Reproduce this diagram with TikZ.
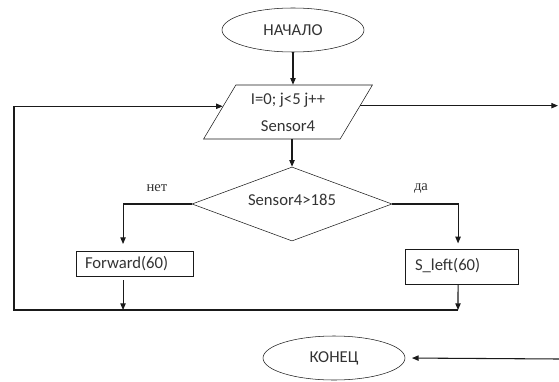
\documentclass[tikz,border=0pt]{standalone}
\usepackage{fontspec}
\setmainfont{Carlito}
\newfontfamily\lblfont{Liberation Serif}
\usepackage{xcolor}
\usepackage{tikz}
\usetikzlibrary{
  arrows.meta, shapes, shapes.geometric, positioning, calc
}
\definecolor{C_LINE}{HTML}{1A1A1A}
\definecolor{C_TEXT}{HTML}{333333}
\tikzset{
  %% -- flowchart terminator (start / end) --
  FC/term/.style={
    draw=C_LINE, ellipse, inner sep=0pt,
    minimum width=106.5pt, minimum height=33pt,
    font=\fontsize{12.5}{15}\selectfont, text=C_TEXT
  },
  %% -- flowchart loop / input block --
  FC/io/.style={
    draw=C_LINE, trapezium, trapezium left angle=59, trapezium right angle=121,
    trapezium stretches=true, inner sep=0pt,
    minimum width=127.5pt, minimum height=40.5pt,
    align=center, font=\fontsize{12.5}{15}\selectfont, text=C_TEXT
  },
  %% -- flowchart decision --
  FC/dec/.style={
    draw=C_LINE, diamond, aspect=2.7, inner sep=0pt,
    minimum width=150pt, minimum height=55.5pt,
    font=\fontsize{12.5}{15}\selectfont, text=C_TEXT
  },
  %% -- flowchart process box --
  FC/proc/.style={
    draw=C_LINE, rectangle, inner ysep=0pt,
    align=left, font=\fontsize{12.5}{15}\selectfont, text=C_TEXT
  },
  %% -- branch label --
  FC/lbl/.style={font=\lblfont\fontsize{11}{13}\selectfont, text=C_TEXT},
  %% -- connector with arrow --
  FC/arr/.style={-{Triangle[length=5pt,width=4pt]}, line width=0.8pt, C_LINE},
  %% -- plain connector --
  FC/line/.style={line width=0.8pt, C_LINE},
}
\begin{document}
\begin{tikzpicture}[
  x=0.75pt, y=-0.75pt,
]
\useasboundingbox (0,0) rectangle (559,381);
%% Nodes
\node[FC/term] (start) at (293,30) {НАЧАЛО};
\node[FC/io]   (loop)  at (288,112) {I=0; j<5 j++\\[5pt]Sensor4};
\node[FC/dec]  (cond)  at (292,204) {\raisebox{6pt}{Sensor4>185}};
\node[FC/proc, minimum width=87.75pt, minimum height=18.75pt,
      inner xsep=6.75pt, text width=74.25pt]
  (fwd) at (134.5,263.5) {Forward(60)};
\node[FC/proc, minimum width=84.75pt, minimum height=26.25pt,
      inner xsep=7.5pt, text width=69.75pt]
  (left) at (461.5,266.5) {\raisebox{3.4pt}{S\_left(60)}};
\node[FC/term] (stop)  at (334,358) {КОНЕЦ};

%% Free ends of the loop lines
\coordinate (bl)   at (14,310);
\coordinate (br)   at (458,310);
\coordinate (rend) at (558,106);
\coordinate (eend) at (559,359);

%% Main flow
\draw[FC/arr] (start.south) -- (start.south |- loop.north);
\draw[FC/arr] (loop.south -| cond.north) -- (cond.north);

%% Branches
\draw[FC/arr, shorten >=5pt] (cond.west) -| ([xshift=-8.6pt]fwd.north);
\draw[FC/arr, shorten >=4pt] (cond.east) -| ([xshift=-2.6pt]left.north);
\node[FC/lbl] (no)  at (157,188) {нет};
\node[FC/lbl] (yes) at (421,188) {да};

%% Back to the loop
\draw[FC/arr, shorten <=3pt] ([xshift=-8.6pt]fwd.south) -- ([xshift=-8.6pt]fwd.south |- bl);
\draw[FC/arr] ([xshift=-2.6pt]left.south) -- (br);
\draw[FC/arr] (br) -- (bl) |- (loop.175);

%% Loop exit and end
\draw[FC/arr] (loop.5) -- (loop.5 -| rend);
\draw[FC/arr, shorten >=5pt] (eend) -- (stop.east);
\end{tikzpicture}
\end{document}
